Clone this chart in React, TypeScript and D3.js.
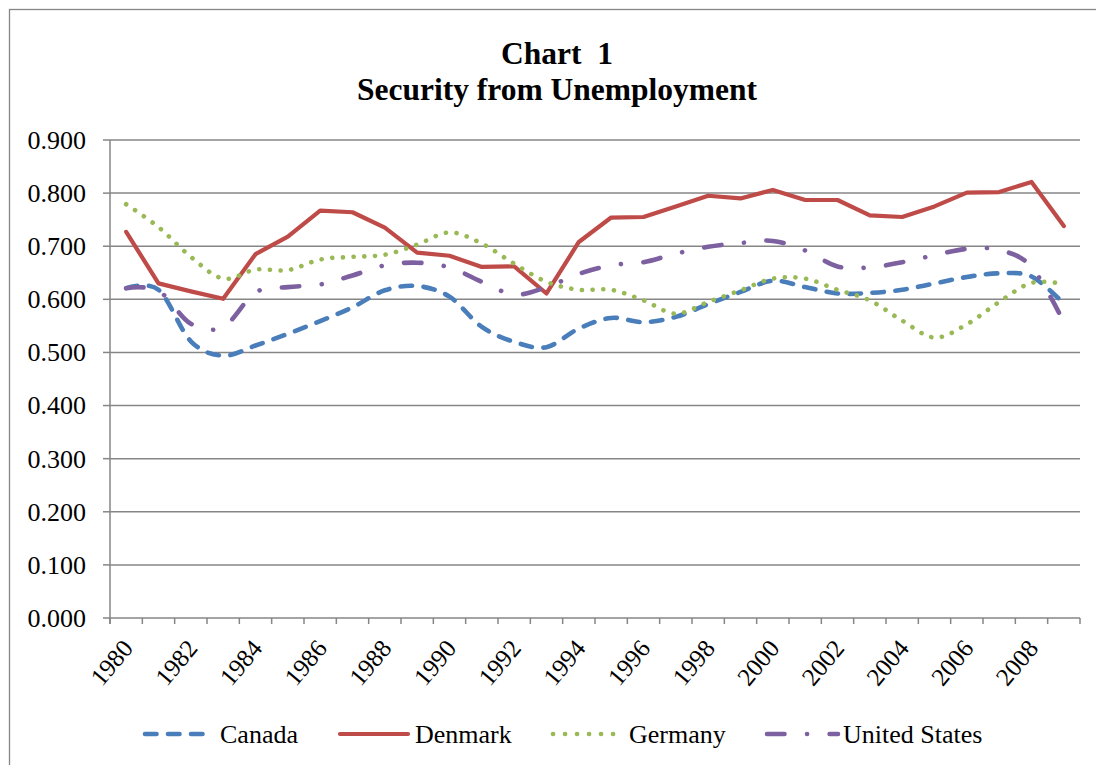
import React from "react";
import * as d3 from "d3";

const years = d3.range(1980, 2010);
const canada = [0.621, 0.618, 0.521, 0.494, 0.513, 0.535, 0.559, 0.585, 0.617, 0.625, 0.605, 0.548, 0.52, 0.51, 0.545, 0.565, 0.557, 0.567, 0.591, 0.614, 0.635, 0.623, 0.611, 0.612, 0.618, 0.63, 0.642, 0.649, 0.643, 0.592];
const denmark = [0.727, 0.63, 0.615, 0.601, 0.685, 0.718, 0.767, 0.764, 0.735, 0.688, 0.682, 0.661, 0.662, 0.611, 0.708, 0.754, 0.755, 0.775, 0.795, 0.79, 0.806, 0.787, 0.787, 0.758, 0.755, 0.775, 0.801, 0.802, 0.821, 0.738];
const germany = [0.779, 0.736, 0.68, 0.639, 0.656, 0.655, 0.675, 0.68, 0.684, 0.703, 0.726, 0.705, 0.667, 0.633, 0.618, 0.618, 0.598, 0.573, 0.595, 0.617, 0.639, 0.639, 0.618, 0.598, 0.56, 0.528, 0.553, 0.595, 0.631, 0.629];
const unitedStates = [0.621, 0.616, 0.554, 0.548, 0.613, 0.623, 0.628, 0.645, 0.664, 0.669, 0.66, 0.633, 0.609, 0.623, 0.648, 0.664, 0.67, 0.686, 0.699, 0.706, 0.71, 0.692, 0.662, 0.66, 0.67, 0.683, 0.695, 0.693, 0.661, 0.557];
const yTicks = d3.range(0, 0.9001, 0.1);

const series = [
  { name: "Canada", values: canada, color: "#4A7EBB", dash: "11.5,11.5", legendDash: "11.5,11.5", smooth: true, width: 4.6 },
  { name: "Denmark", values: denmark, color: "#BE4B48", dash: null, legendDash: null, smooth: false, width: 4.2 },
  { name: "Germany", values: germany, color: "#98B954", dash: "0.1,10.6", legendDash: "0.1,11.9", smooth: true, width: 4.6 },
  { name: "United States", values: unitedStates, color: "#7D60A0", dash: "17.5,22.5,0.1,22.5", legendDash: "17.5,22.5,0.1,22.5", smooth: true, width: 4.6 },
];

const W = 1096;
const H = 765;
const left = 110;
const right = 1080;
const top = 140;
const bottom = 618;
const font = "'Liberation Serif', 'Times New Roman', serif";

export default function App() {
  const x = d3.scaleBand<number>().domain(years).range([left, right]);
  const y = d3.scaleLinear().domain([0, 0.9]).range([bottom, top]);
  const cx = (yr: number) => (x(yr) as number) + x.bandwidth() / 2;

  const lineOf = (s: typeof series[number]) =>
    d3
      .line<number>()
      .x((_, i) => cx(years[i]))
      .y((v) => y(v))
      .curve(s.smooth ? d3.curveCatmullRom.alpha(0) : d3.curveLinear)(s.values) as string;

  const boundaries = d3.range(0, years.length + 1).map((i) => left + i * x.bandwidth());
  // legend sample start/end and text start
  const legendX = [[145, 204, 220], [340, 408, 415], [553, 614, 629], [767, 838, 843]];

  return (
    <svg width={W} height={H} style={{ position: "absolute", left: 0, top: 0 }}>
      <rect x={0} y={0} width={W} height={H} fill="#fff" />
      <rect x={9.5} y={9.5} width={W + 20} height={H + 20} fill="none" stroke="#868686" strokeWidth={1.3} />
      <text x={557} y={64} textAnchor="middle" fontFamily={font} fontWeight="bold" fontSize={31.5} xmlSpace="preserve">
        Chart  1
      </text>
      <text x={557} y={100} textAnchor="middle" fontFamily={font} fontWeight="bold" fontSize={31.5}>
        Security from Unemployment
      </text>

      {yTicks.map((t) => (
        <g key={t}>
          <line x1={left} x2={right} y1={y(t)} y2={y(t)} stroke="#868686" strokeWidth={1.5} />
          <line x1={left - 7} x2={left} y1={y(t)} y2={y(t)} stroke="#868686" strokeWidth={1.5} />
          <text x={86} y={y(t)} dy="0.34em" textAnchor="end" fontFamily={font} fontSize={26}>
            {t.toFixed(3)}
          </text>
        </g>
      ))}
      <line x1={left} x2={left} y1={top} y2={bottom + 6} stroke="#868686" strokeWidth={1.5} />
      {boundaries.map((b, i) => (
        <line key={i} x1={b} x2={b} y1={bottom} y2={bottom + 6} stroke="#868686" strokeWidth={1.5} />
      ))}
      {years
        .filter((yr) => yr % 2 === 0)
        .map((yr) => (
          <text
            key={yr}
            transform={`translate(${cx(yr) + 8},${bottom + 31}) rotate(-50)`}
            textAnchor="end"
            fontFamily={font}
            fontSize={25}
          >
            {yr}
          </text>
        ))}

      {series.map((s) => (
        <path
          key={s.name}
          d={lineOf(s)}
          fill="none"
          stroke={s.color}
          strokeWidth={s.width}
          strokeDasharray={s.dash ?? undefined}
          strokeLinecap="round"
          strokeLinejoin="round"
        />
      ))}

      {series.map((s, i) => (
        <g key={s.name}>
          <line
            x1={legendX[i][0]}
            x2={legendX[i][1]}
            y1={734}
            y2={734}
            stroke={s.color}
            strokeWidth={s.width}
            strokeDasharray={s.legendDash ?? undefined}
            strokeLinecap="round"
          />
          <text x={legendX[i][2]} y={743} fontFamily={font} fontSize={26}>
            {s.name}
          </text>
        </g>
      ))}
    </svg>
  );
}
